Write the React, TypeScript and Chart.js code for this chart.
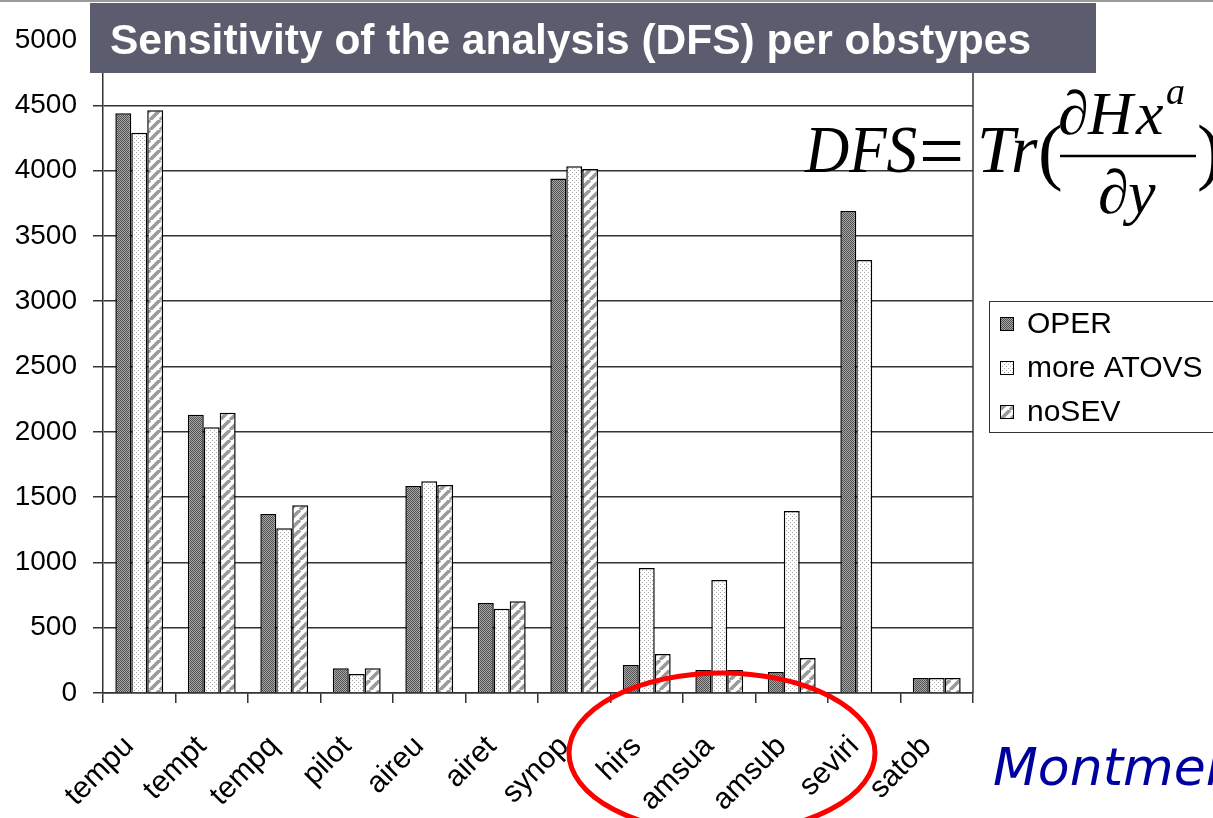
import React, { useEffect, useRef } from "react";
import { Chart, registerables } from "chart.js";

Chart.register(...registerables);

const categories = ["tempu", "tempt", "tempq", "pilot", "aireu", "airet", "synop", "hirs", "amsua", "amsub", "seviri", "satob"];
const operValues = [4440, 2130, 1370, 190, 1585, 690, 3940, 214, 176, 161, 3690, 115];
const moreAtovsValues = [4290, 2035, 1262, 145, 1622, 645, 4033, 957, 865, 1394, 3315, 115];
const noSevValues: (number | null)[] = [4462, 2145, 1438, 190, 1592, 702, 4012, 299, 176, 268, null, 115];
const seriesNames = ["OPER", "more ATOVS", "noSEV"];
const yMin = 0;
const yMax = 5000;
const yStep = 500;
const titleText = "Sensitivity of the analysis (DFS) per obstypes";
const footerText = "Montmer";

function makePattern(kind: string): CanvasPattern | string {
  const c = document.createElement("canvas");
  const ctx = c.getContext("2d");
  if (!ctx) return "#999";
  if (kind === "oper") {
    c.width = 2;
    c.height = 2;
    ctx.fillStyle = "#a8a8a8";
    ctx.fillRect(0, 0, 2, 2);
    ctx.fillStyle = "#505050";
    ctx.fillRect(0, 0, 1, 1);
    ctx.fillRect(1, 1, 1, 1);
  } else if (kind === "atovs") {
    c.width = 4;
    c.height = 4;
    ctx.fillStyle = "#ffffff";
    ctx.fillRect(0, 0, 4, 4);
    ctx.fillStyle = "#a8a8a8";
    ctx.fillRect(0, 0, 1, 1);
    ctx.fillRect(2, 2, 1, 1);
  } else {
    const s = 10;
    c.width = s;
    c.height = s;
    ctx.fillStyle = "#ffffff";
    ctx.fillRect(0, 0, s, s);
    ctx.strokeStyle = "#9a9a9a";
    ctx.lineWidth = 3.5;
    for (const off of [-s, 0, s]) {
      ctx.beginPath();
      ctx.moveTo(off, s);
      ctx.lineTo(off + s, 0);
      ctx.stroke();
    }
  }
  const p = ctx.createPattern(c, "repeat");
  return p || "#999";
}

const serif = "'Liberation Serif', 'Times New Roman', serif";

const decorPlugin = {
  id: "decor",
  afterDraw(chart: any) {
    const ctx: CanvasRenderingContext2D = chart.ctx;
    const area = chart.chartArea;
    ctx.save();
    // right border of plot
    ctx.strokeStyle = "#333";
    ctx.lineWidth = 1.5;
    ctx.beginPath();
    ctx.moveTo(area.right, area.top);
    ctx.lineTo(area.right, area.bottom);
    ctx.stroke();

    // top slide line
    ctx.fillStyle = "#9a9a9a";
    ctx.fillRect(0, 0, 1213, 2);

    // title box
    ctx.fillStyle = "#5b5c6d";
    ctx.fillRect(90, 3, 1006, 70);
    ctx.fillStyle = "#ffffff";
    ctx.font = "bold 42.5px 'Liberation Sans', Arial, sans-serif";
    ctx.textAlign = "left";
    ctx.textBaseline = "alphabetic";
    ctx.fillText(titleText, 110, 54);

    // legend
    ctx.strokeStyle = "#333";
    ctx.lineWidth = 1;
    ctx.fillStyle = "#fff";
    ctx.fillRect(989.5, 301.5, 240, 131);
    ctx.strokeRect(989.5, 301.5, 240, 131);
    const rows = [324, 368, 412];
    chart.data.datasets.forEach((ds: any, i: number) => {
      const y = rows[i];
      ctx.fillStyle = ds.backgroundColor;
      ctx.fillRect(1000, y - 7, 14, 14);
      ctx.strokeStyle = "#000";
      ctx.lineWidth = 1;
      ctx.strokeRect(1000.5, y - 6.5, 13, 13);
      ctx.fillStyle = "#000";
      ctx.font = "30px 'Liberation Sans', Arial, sans-serif";
      ctx.textBaseline = "middle";
      ctx.fillText(ds.label, 1027, y + 1);
    });

    // formula
    ctx.fillStyle = "#000";
    ctx.textBaseline = "alphabetic";
    ctx.save();
    ctx.translate(805, 172);
    ctx.scale(0.9, 1);
    ctx.font = "italic 68px " + serif;
    ctx.fillText("DFS", 0, 0);
    ctx.restore();
    ctx.font = "80px " + serif;
    ctx.fillText("=", 919, 178);
    ctx.font = "italic 68px " + serif;
    ctx.fillText("Tr", 977, 172);
    ctx.font = "74px " + serif;
    ctx.fillText("(", 1038, 176);
    ctx.fillText(")", 1197, 176);
    ctx.font = "italic 62px " + serif;
    ctx.fillText("\u2202", 1058, 134);
    ctx.fillText("H", 1088, 134);
    ctx.fillText("x", 1136, 134);
    ctx.fillText("\u2202", 1098, 213);
    ctx.fillText("y", 1128, 213);
    ctx.font = "italic 38px " + serif;
    ctx.fillText("a", 1166, 104);
    ctx.strokeStyle = "#000";
    ctx.lineWidth = 2.5;
    ctx.beginPath();
    ctx.moveTo(1060, 156);
    ctx.lineTo(1196, 156);
    ctx.stroke();

    // footer text
    ctx.fillStyle = "#0000a0";
    ctx.font = "italic 52px 'Comic Sans MS', 'DejaVu Sans', sans-serif";
    ctx.fillText(footerText, 993, 785);

    // red ellipse
    ctx.strokeStyle = "#ff0000";
    ctx.lineWidth = 5;
    ctx.beginPath();
    ctx.ellipse(722, 753, 153, 80, 0, 0, Math.PI * 2);
    ctx.stroke();
    ctx.restore();
  },
};

export default function App() {
  const ref = useRef<HTMLCanvasElement | null>(null);
  useEffect(() => {
    if (!ref.current) return;
    const fills = [makePattern("oper"), makePattern("atovs"), makePattern("nosev")];
    const seriesValues = [operValues, moreAtovsValues, noSevValues];
    const chart = new Chart(ref.current, {
      type: "bar",
      data: {
        labels: categories,
        datasets: seriesNames.map((name, i) => ({
          label: name,
          data: seriesValues[i] as any,
          backgroundColor: fills[i] as any,
          borderColor: "#000",
          borderWidth: 1.5,
          categoryPercentage: 0.66,
          barPercentage: 1.0,
        })),
      },
      options: {
        animation: false,
        responsive: false,
        devicePixelRatio: 1,
        layout: { padding: { left: 0, right: 240, top: 40, bottom: 0 } },
        plugins: {
          legend: { display: false },
          tooltip: { enabled: false },
          title: { display: false },
        },
        scales: {
          x: {
            afterFit: (s: any) => {
              s.height = 125;
            },
            grid: {
              offset: true,
              drawOnChartArea: false,
              drawTicks: true,
              tickLength: 10,
              color: "#333",
              lineWidth: 1.5,
            },
            border: { display: true, color: "#333", width: 1.5 },
            ticks: {
              autoSkip: false,
              maxRotation: 45,
              minRotation: 45,
              padding: 26,
              labelOffset: -10,
              color: "#000",
              font: { family: "'Liberation Sans', Arial, sans-serif", size: 30 },
            },
          },
          y: {
            min: yMin,
            max: yMax,
            afterFit: (s: any) => {
              s.width = 103;
            },
            grid: {
              color: "#333",
              lineWidth: 1.5,
              tickLength: 10,
              drawTicks: true,
            },
            border: { display: true, color: "#333", width: 1.5 },
            ticks: {
              stepSize: yStep,
              padding: 16,
              color: "#000",
              callback: (v: any) => String(v),
              font: { family: "'Liberation Sans', Arial, sans-serif", size: 28 },
            },
          },
        },
      },
      plugins: [decorPlugin],
    });
    return () => chart.destroy();
  }, []);
  return (
    <div style={{ position: "absolute", left: 0, top: 0, width: 1213, height: 818, background: "#fff" }}>
      <canvas ref={ref} width={1213} height={818} style={{ display: "block" }} />
    </div>
  );
}
